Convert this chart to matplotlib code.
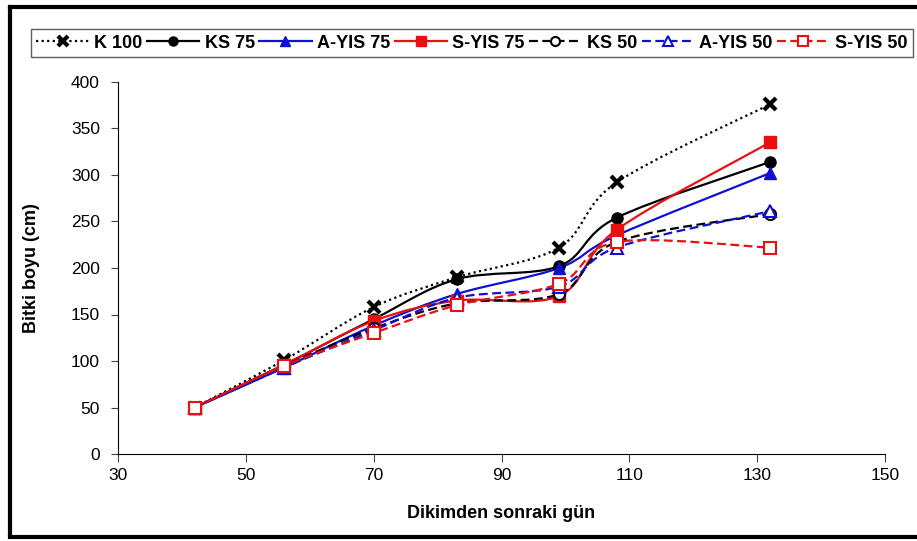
import matplotlib
matplotlib.use("Agg")
import matplotlib.pyplot as plt
from matplotlib.path import Path
from matplotlib.patches import PathPatch
from matplotlib.lines import Line2D
import numpy as np

plt.rcParams['font.family'] = ['Liberation Sans', 'DejaVu Sans']

days = [42, 56, 70, 83, 99, 108, 132]
k100 = [50, 101, 158, 190, 222, 292, 376]
ks75 = [50, 96, 145, 188, 202, 254, 314]
ayis75 = [50, 93, 138, 172, 200, 235, 302]
syis75 = [50, 96, 143, 165, 170, 241, 335]
ks50 = [50, 95, 135, 162, 172, 228, 258]
ayis50 = [50, 93, 133, 168, 180, 222, 261]
syis50 = [50, 95, 130, 160, 183, 228, 222]

series = [
    ("K 100", k100, dict(color="black", ls=(0, (1, 1.5)), marker="x", mfc="black", mec="black", ms=8, mew=3)),
    ("KS 75", ks75, dict(color="black", ls="-", marker="o", mfc="black", mec="black", ms=8, mew=1)),
    ("A-YIS 75", ayis75, dict(color="#1010d0", ls="-", marker="^", mfc="#1010d0", mec="#1010d0", ms=8, mew=1)),
    ("S-YIS 75", syis75, dict(color="#e81010", ls="-", marker="s", mfc="#e81010", mec="#e81010", ms=8, mew=1)),
    ("KS 50", ks50, dict(color="black", ls=(0, (4, 2)), marker="o", mfc="white", mec="black", ms=8, mew=1.5)),
    ("A-YIS 50", ayis50, dict(color="#1010d0", ls=(0, (4, 2)), marker="^", mfc="white", mec="#1010d0", ms=8, mew=1.5)),
    ("S-YIS 50", syis50, dict(color="#e81010", ls=(0, (4, 2)), marker="s", mfc="white", mec="#e81010", ms=8, mew=1.5)),
]

fig = plt.figure(figsize=(9.17, 5.41), dpi=100)
ax = fig.add_axes([118/917, 1-454/541, (885-118)/917, (454-82)/541])


def smooth_path(xs, ys):
    pts = np.column_stack([xs, ys]).astype(float)
    n = len(pts)
    verts = [pts[0]]
    codes = [Path.MOVETO]
    for i in range(n - 1):
        p0 = pts[i - 1] if i > 0 else pts[i]
        p1 = pts[i]
        p2 = pts[i + 1]
        p3 = pts[i + 2] if i + 2 < n else pts[i + 1]
        c1 = p1 + (p2 - p0) / 6.0
        c2 = p2 - (p3 - p1) / 6.0
        verts += [c1, c2, p2]
        codes += [Path.CURVE4] * 3
    return Path(verts, codes)


handles = []
for name, vals, st in series:
    patch = PathPatch(smooth_path(days, vals), fill=False, edgecolor=st["color"],
                      linestyle=st["ls"], lw=1.6, zorder=2)
    ax.add_patch(patch)
    ax.plot(days, vals, ls="none", marker=st["marker"], mfc=st["mfc"], mec=st["mec"],
            ms=st["ms"], mew=st["mew"], zorder=3)
    h, = ax.plot([], [], color=st["color"], ls=st["ls"], lw=1.6, marker=st["marker"],
                 mfc=st["mfc"], mec=st["mec"], ms=st["ms"] - 1.5, mew=st["mew"])
    handles.append(h)

ax.set_xlim(30, 150)
ax.set_ylim(0, 400)
ax.set_xticks(range(30, 151, 20))
ax.set_yticks(range(0, 401, 50))
ax.spines['top'].set_visible(False)
ax.spines['right'].set_visible(False)
ax.tick_params(axis='y', labelsize=12.5, direction='out', length=5, pad=8, color='#444444')
ax.tick_params(axis='x', labelsize=12.5, direction='out', length=6, pad=4, color='#444444')
ax.set_xlabel("Dikimden sonraki gün", fontsize=13, fontweight='bold', labelpad=16)
ax.set_ylabel("Bitki boyu (cm)", fontsize=13, fontweight='bold', labelpad=22)

leg = fig.legend(handles, [s[0] for s in series], ncol=7, loc='lower left',
                 bbox_to_anchor=(31/917, 1-57/541, 882/917, 33/541), mode='expand',
                 frameon=True, fancybox=False, edgecolor='#333333',
                 prop={'weight': 'bold', 'size': 13},
                 handlelength=2.9, handletextpad=0.3, columnspacing=0.2, borderpad=0.3,
                 borderaxespad=0)
leg.get_frame().set_linewidth(1.0)

# outer frame (left, top, bottom; right edge falls outside the picture)
for xs, ys in [((10/917, 10/917), (7/541, 1-7/541)),
               ((10/917, 1.0), (1-7/541, 1-7/541)),
               ((10/917, 1.0), (4/541, 4/541))]:
    fig.add_artist(Line2D(xs, ys, transform=fig.transFigure, color='black', lw=3))

fig.savefig("out.png", dpi=100)
